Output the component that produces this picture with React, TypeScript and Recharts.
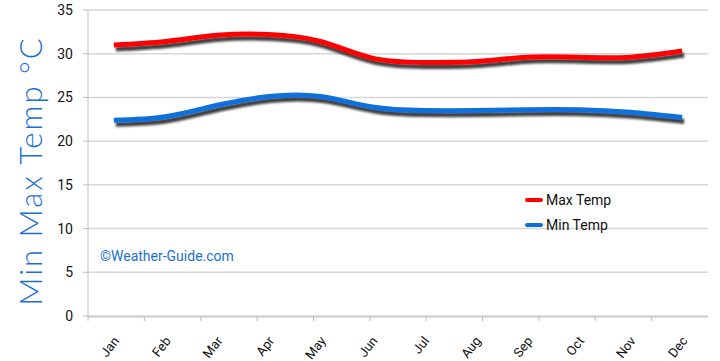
import { LineChart, Line, XAxis, YAxis, CartesianGrid, Legend } from 'recharts';

const months = ['Jan', 'Feb', 'Mar', 'Apr', 'May', 'Jun', 'Jul', 'Aug', 'Sep', 'Oct', 'Nov', 'Dec'];
const maxTemp = [31.0, 31.4, 32.1, 32.2, 31.4, 29.5, 29.0, 29.1, 29.6, 29.6, 29.6, 30.3];
const minTemp = [22.4, 22.8, 24.1, 25.1, 25.1, 23.9, 23.5, 23.5, 23.6, 23.6, 23.3, 22.7];
const yTicks = [0, 5, 10, 15, 20, 25, 30, 35];
const boundaryTicks = [0, 1, 2, 3, 4, 5, 6, 7, 8, 9, 10, 11, 12];

const data = months.map((m, i) => ({ month: m, max: maxTemp[i], min: minTemp[i] }));

const FONT = 'Roboto, "Noto Sans", sans-serif';
const AXIS = '#bfbfbf';

function MonthTick({ x, y, payload }: any) {
  return (
    <g transform={`translate(${x + 6},${y + 16})`}>
      <text x={0} y={0} textAnchor="end" transform="rotate(-52)" fontSize={13} fontFamily={FONT} fill="#111">
        {payload.value}
      </text>
    </g>
  );
}

function NoLabel() {
  return <g />;
}

function YTitle({ viewBox }: any) {
  const cx = viewBox.x + 30;
  const cy = viewBox.y + viewBox.height / 2 + 8;
  return (
    <text
      x={cx}
      y={cy}
      transform={`rotate(-90 ${cx} ${cy})`}
      textAnchor="middle"
      dominantBaseline="central"
      fontSize={31}
      fontWeight={300}
      letterSpacing={2}
      fontFamily='Lato, "Open Sans", sans-serif'
      fill="#1a6fd4"
    >
      Min Max Temp °C
    </text>
  );
}

function LegendBox({ payload }: any) {
  return (
    <div style={{ fontFamily: FONT, fontSize: 14, color: '#111' }}>
      {payload.map((p: any) => (
        <div key={p.value} style={{ display: 'flex', alignItems: 'center', height: 25 }}>
          <span style={{ display: 'inline-block', width: 18, height: 4, background: p.color, borderRadius: 2, marginRight: 3 }} />
          {p.value}
        </div>
      ))}
    </div>
  );
}

export default function App() {
  return (
    <div style={{ position: 'absolute', left: 0, top: 0, width: 720, height: 361, background: '#fff' }}>
      <LineChart width={720} height={361} data={data} margin={{ top: 10, right: 12, bottom: 0, left: 0 }}>
        <defs>
          <filter id="lineShadow" x="-5%" y="-50%" width="110%" height="200%">
            <feDropShadow dx={2} dy={4} stdDeviation={1.2} floodColor="#2a2a2a" floodOpacity={0.9} />
          </filter>
        </defs>
        <CartesianGrid vertical={false} stroke="#d6d6d6" strokeWidth={1.5} />
        <XAxis
          xAxisId={0}
          type="number"
          domain={[0, 12]}
          ticks={boundaryTicks}
          tick={<NoLabel />}
          axisLine={false}
          tickLine={{ stroke: AXIS }}
          tickSize={5}
          height={1}
        />
        <XAxis
          xAxisId="month"
          dataKey="month"
          scale="band"
          axisLine={{ stroke: AXIS }}
          tickLine={false}
          tick={<MonthTick />}
          interval={0}
          height={44}
        />
        <YAxis
          domain={[0, 35]}
          ticks={yTicks}
          width={88}
          axisLine={{ stroke: AXIS }}
          tickLine={{ stroke: AXIS }}
          tickSize={5}
          tickMargin={10}
          tick={{ fontSize: 14, fontFamily: FONT, fill: '#111' }}
          label={<YTitle />}
        />
        <YAxis
          yAxisId="edge"
          orientation="right"
          width={0}
          domain={[0, 35]}
          tick={false}
          tickLine={false}
          axisLine={{ stroke: '#d6d6d6', strokeWidth: 1.5 }}
        />
        <Legend
          layout="horizontal"
          verticalAlign="middle"
          align="center"
          wrapperStyle={{ left: 525, top: 187, width: 120 }}
          content={<LegendBox />}
        />
        <Line
          xAxisId="month"
          dataKey="max"
          name="Max Temp"
          type="natural"
          stroke="#ff0000"
          strokeWidth={5}
          dot={false}
          filter="url(#lineShadow)"
          isAnimationActive={false}
        />
        <Line
          xAxisId="month"
          dataKey="min"
          name="Min Temp"
          type="natural"
          stroke="#0a6fdc"
          strokeWidth={5}
          dot={false}
          filter="url(#lineShadow)"
          isAnimationActive={false}
        />
      </LineChart>
      <div
        style={{
          position: 'absolute',
          left: 100,
          top: 248,
          fontFamily: FONT,
          fontSize: 14,
          color: '#1a6fd4',
          whiteSpace: 'nowrap',
        }}
      >
        ©Weather-Guide.com
      </div>
    </div>
  );
}
